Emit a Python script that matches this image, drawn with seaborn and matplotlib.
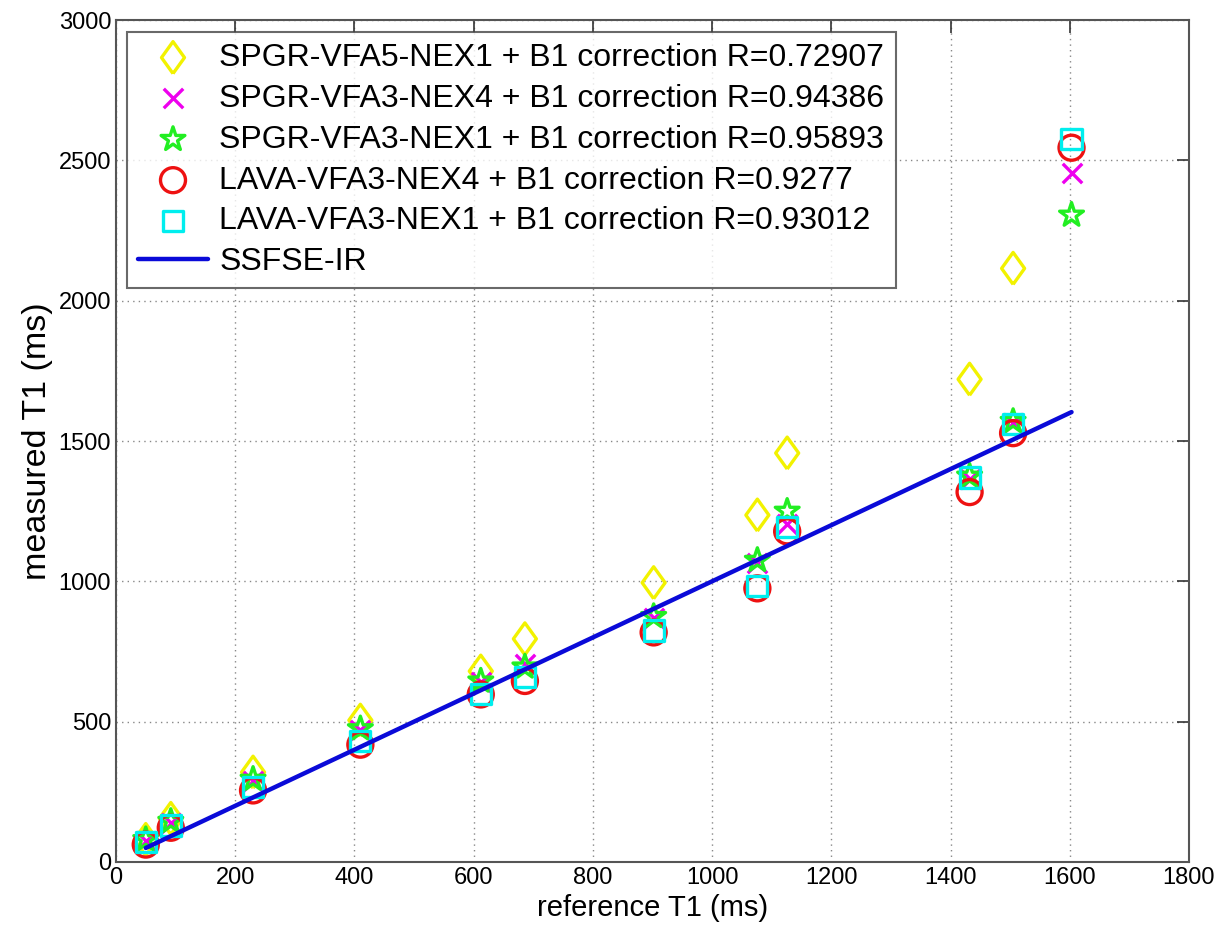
import numpy as np
import pandas as pd
import matplotlib
matplotlib.use("Agg")
import matplotlib.pyplot as plt
import seaborn as sns

# reference T1 (ms)
ref_t1 = [50, 92, 230, 410, 612, 686, 902, 1076, 1126, 1432, 1505, 1603]

spgr_vfa5_nex1 = [80, 155, 320, 505, 680, 795, 995, 1236, 1457, 1720, 2115, np.nan]
spgr_vfa3_nex4 = [75, 140, 290, 470, 640, 705, 870, 1065, 1205, 1365, 1565, 2455]
spgr_vfa3_nex1 = [80, 145, 295, 475, 645, 695, 875, 1075, 1250, 1375, 1570, 2305]
lava_vfa3_nex4 = [62, 122, 255, 418, 597, 645, 818, 975, 1178, 1318, 1528, 2545]
lava_vfa3_nex1 = [72, 130, 268, 430, 600, 660, 825, 982, 1195, 1370, 1562, 2575]
ssfse_ir = ref_t1

labels = [
    "SPGR-VFA5-NEX1 + B1 correction R=0.72907",
    "SPGR-VFA3-NEX4 + B1 correction R=0.94386",
    "SPGR-VFA3-NEX1 + B1 correction R=0.95893",
    "LAVA-VFA3-NEX4 + B1 correction R=0.9277",
    "LAVA-VFA3-NEX1 + B1 correction R=0.93012",
]
line_label = "SSFSE-IR"

sns.set_style("white")
plt.rcParams['font.family'] = ['Liberation Sans', 'DejaVu Sans']
plt.rcParams['text.color'] = 'black'
plt.rcParams['axes.labelcolor'] = 'black'

fig = plt.figure(figsize=(12.27, 9.40), dpi=100)
ax = fig.add_axes([0.0945, 0.083, 0.8745, 0.8957])

diamond = [(0, -1), (0.72, 0), (0, 1), (-0.72, 0), (0, -1)]

series = [spgr_vfa5_nex1, spgr_vfa3_nex4, spgr_vfa3_nex1, lava_vfa3_nex4, lava_vfa3_nex1]
styles = [
    dict(marker=diamond, color="#f2f200", s=23**2),
    dict(marker="x", color="#ee00ee", s=14**2),
    dict(marker="*", color="#22ee22", s=18**2),
    dict(marker="o", color="#ee1111", s=18**2),
    dict(marker="s", color="#00eeee", s=14.5**2),
]

for vals, lab, st in zip(series, labels, styles):
    df = pd.DataFrame({"x": ref_t1, "y": vals}).dropna()
    if st["marker"] == "x":
        sns.scatterplot(data=df, x="x", y="y", ax=ax, marker="x", color=st["color"],
                        s=st["s"], linewidth=2.4, label=lab, zorder=3)
    else:
        sns.scatterplot(data=df, x="x", y="y", ax=ax, marker=st["marker"],
                        s=st["s"], facecolors="none", edgecolor=st["color"],
                        linewidth=2.4, label=lab, zorder=3)

sns.lineplot(x=ref_t1, y=ssfse_ir, ax=ax, color="#0a0ad8", linewidth=3.2,
             label=line_label, zorder=4)

ax.set_xlim(0, 1800)
ax.set_ylim(0, 3000)
ax.set_xticks(np.arange(0, 1801, 200))
ax.set_yticks(np.arange(0, 3001, 500))
ax.grid(True, linestyle=(0, (1, 3)), color="#888888", linewidth=1.0)
ax.tick_params(direction="in", length=9, width=1.2, top=True, right=True,
               labelsize=17, colors="#333333", labelcolor="black")
for sp in ax.spines.values():
    sp.set_color("#555555")
    sp.set_linewidth(1.5)

ax.set_xlabel("reference T1 (ms)", fontsize=21)
ax.set_ylabel("measured T1 (ms)", fontsize=24.5)

leg = ax.legend(loc="upper left", bbox_to_anchor=(0.01, 0.986), borderaxespad=0,
                fontsize=23, frameon=True, fancybox=False, edgecolor="#444444",
                handlelength=2.2, labelspacing=0.34, borderpad=0.35, handletextpad=0.35)
leg.get_frame().set_linewidth(1.5)
for t in leg.get_texts():
    t.set_color("black")

fig.savefig("out.png", dpi=100)
